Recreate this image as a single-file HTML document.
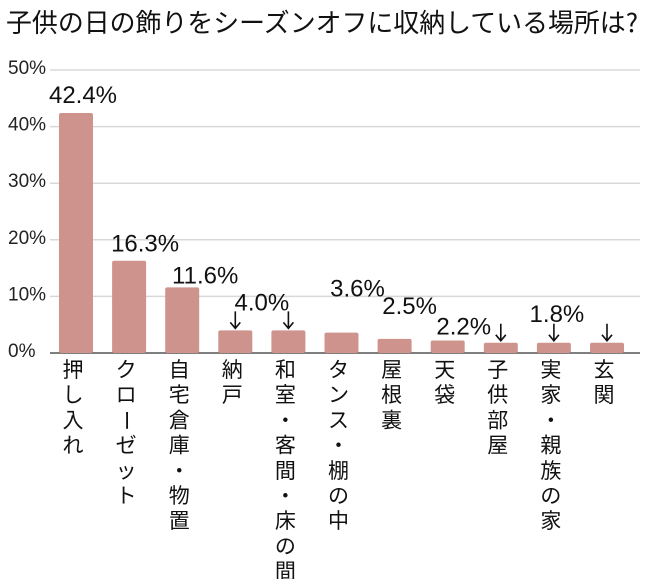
<!DOCTYPE html>
<html><head><meta charset="utf-8">
<style>
html,body{margin:0;padding:0;background:#fff;}
svg{display:block;font-family:"Liberation Sans","Noto Sans CJK JP",sans-serif;}
</style></head>
<body>
<svg id="chart" width="650" height="579" viewBox="0 0 650 579">
<text x="6" y="32" font-size="26" fill="#111" font-family="'Noto Sans CJK JP',sans-serif" textLength="632" lengthAdjust="spacingAndGlyphs">子供の日の飾りをシーズンオフに収納している場所は?</text>
<g id="grid"></g><g id="bars"></g><g id="labels"></g><g id="xlabels"></g>
</svg>
<script>
const categories=["押し入れ","クローゼット","自宅倉庫・物置","納戸","和室・客間・床の間","タンス・棚の中","屋根裏","天袋","子供部屋","実家・親族の家","玄関"];
const values=[42.4,16.3,11.6,4.0,4.0,3.6,2.5,2.2,1.8,1.8,1.8];
const yTicks=[0,10,20,30,40,50];
const yTickLabels=["0%","10%","20%","30%","40%","50%"];
const NS="http://www.w3.org/2000/svg";
const y0=353, pxPer=5.66, x0=76, pitch=53.1, bw=34;
const yS=v=>y0-v*pxPer;
const xS=i=>x0+i*pitch;
function mk(t,a,p){const e=document.createElementNS(NS,t);for(const k in a)e.setAttribute(k,a[k]);p.appendChild(e);return e;}
const grid=document.getElementById('grid');
yTicks.forEach((t,i)=>{
  const l=mk('line',{x1:50,x2:640,y1:yS(t),y2:yS(t),stroke:t===0?'#555':'#d8d8d8','stroke-width':1.5},grid);
  
  
  const tx=mk('text',{x:8,y:yS(t)+4,'font-size':19,fill:'#222'},grid);
  tx.textContent=yTickLabels[i];
  
  
});
const bars=document.getElementById('bars');
values.forEach((v,i)=>{
  const r=mk('rect',{x:xS(i)-bw/2,y:yS(v),width:bw,height:y0-yS(v),fill:'#cf938d',rx:2},bars);
  
  
});
const lab=document.getElementById('labels');
function vlab(txt,x,y){const t=mk('text',{x:x,y:y,'font-size':24,fill:'#111','text-anchor':'middle'},lab);t.textContent=txt;}
function arrow(i,v){const x=xS(i);const g=mk('path',{d:`M${x} ${yS(v)-19}V${yS(v)-2}M${x-5} ${yS(v)-8}L${x} ${yS(v)-2}L${x+5} ${yS(v)-8}`,stroke:'#111','stroke-width':1.6,fill:'none'},lab);}
const f=v=>v.toFixed(1)+'%';
vlab(f(values[0]),xS(0)+7,yS(values[0])-10);
vlab(f(values[1]),xS(1)+16,yS(values[1])-9);
vlab(f(values[2]),xS(2)+23,yS(values[2])-4);
vlab(f(values[3]),(xS(3)+xS(4))/2,yS(values[3])-20);arrow(3,values[3]);arrow(4,values[4]);
vlab(f(values[5]),xS(5)+16,yS(values[5])-36);
vlab(f(values[6]),xS(6)+15,yS(values[6])-25);
vlab(f(values[7]),xS(7)+16,yS(values[7])-6);
vlab(f(values[9]),xS(9)+3,yS(values[9])-21);arrow(8,values[8]);arrow(9,values[9]);arrow(10,values[10]);
const xl=document.getElementById('xlabels');
categories.forEach((c,i)=>{
  const g=mk('g',{},xl);
  
  
  [...c].forEach((ch,j)=>{
    const t=mk('text',{x:xS(i)-3,y:377+j*25.2,'font-size':21,fill:'#111','text-anchor':'middle'},g);
    if(ch==='ー'){t.setAttribute('transform',`rotate(90 ${xS(i)-3} ${370+j*25.2})`);}
    t.textContent=ch;
  });
});
</script>
</body></html>
